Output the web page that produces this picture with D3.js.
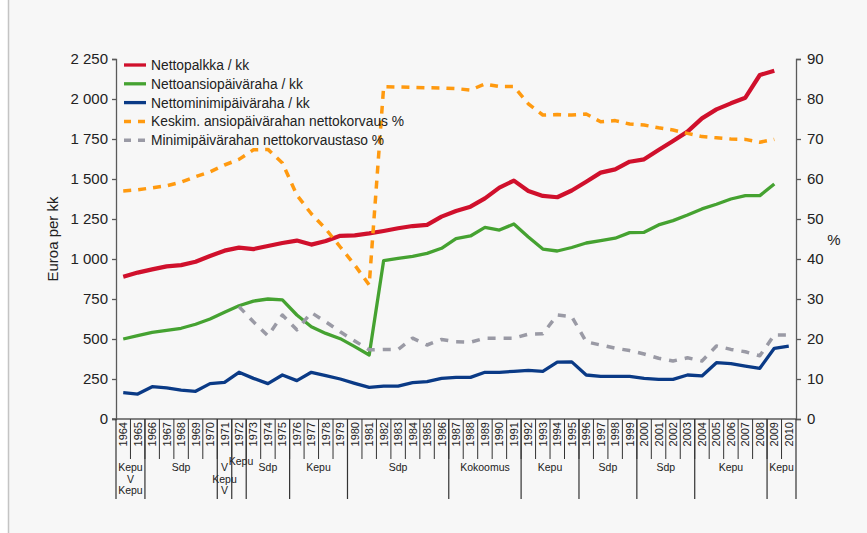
<!DOCTYPE html>
<html>
<head>
<meta charset="utf-8">
<script src="https://cdn.jsdelivr.net/npm/d3@7"></script>
<style>
  body { margin: 0; background: #fff; }
  svg { display: block; font-family: "Liberation Sans", Arial, sans-serif; }
</style>
</head>
<body>
<div id="chart"></div>
<script>
const years = d3.range(1964, 2011);

// Euroa per kk
const nettopalkka = [889, 915, 935, 954, 962, 983, 1019, 1052, 1071, 1062, 1081, 1100, 1115, 1090, 1112, 1145,
  1148, 1160, 1175, 1192, 1206, 1213, 1265, 1300, 1327, 1379, 1446, 1490, 1425, 1394, 1386, 1428,
  1483, 1540, 1560, 1608, 1623, 1681, 1738, 1796, 1879, 1935, 1973, 2008, 2150, 2177, null];
const ansiopaivaraha = [500, 521, 542, 554, 567, 592, 625, 667, 708, 737, 750, 744, 650, 577, 535, 502,
  452, 400, 990, 1004, 1017, 1035, 1067, 1128, 1144, 1198, 1181, 1219, 1138, 1062, 1050, 1072,
  1100, 1115, 1130, 1165, 1167, 1213, 1240, 1275, 1313, 1342, 1375, 1396, 1396, 1469, null];
const minimipaivaraha = [165, 156, 202, 194, 181, 173, 221, 229, 292, 254, 221, 275, 240, 292, 271, 250,
  223, 198, 206, 206, 227, 233, 254, 260, 260, 292, 292, 298, 304, 298, 356, 357,
  275, 267, 267, 267, 254, 248, 248, 275, 269, 352, 346, 331, 317, 442, 456];

// %
const ansioKorvaus = [57, 57.3, 57.8, 58.3, 59.2, 60.6, 61.8, 63.5, 64.9, 67.3, 67.4, 64, 56, 51.3, 47.5, 43,
  38.5, 33.5, 83.1, 83, 82.9, 82.8, 82.75, 82.6, 82.25, 83.75, 83.1, 83.1, 78.8, 76, 76.1, 76,
  76.25, 74.3, 74.6, 73.75, 73.5, 72.8, 72.25, 71.4, 70.6, 70.3, 70, 69.9, 69.2, 69.9, null];
const minimiKorvaus = [null, null, null, null, null, null, null, null, 28.1, 24.3, 20.8, 26, 22.3, 26.6, 24.3, 21.8,
  19.5, 17.3, 17.4, 17.4, 20.2, 18.5, 19.9, 19.3, 19.2, 20.2, 20.2, 20.2, 21.2, 21.3, 26, 25.6,
  19.3, 18.5, 17.7, 17.1, 16.25, 15.2, 14.5, 15.3, 14.5, 18.25, 17.4, 16.8, 15.8, 21, 21];

const leftTicks = d3.range(0, 2251, 250);
const rightTicks = d3.range(0, 91, 10);

const seriesNames = ["Nettopalkka / kk", "Nettoansiopäiväraha / kk", "Nettominimipäiväraha / kk",
  "Keskim. ansiopäivärahan nettokorvaus %", "Minimipäivärahan nettokorvaustaso %"];

// hallitukset
const governments = [
  { from: 1964, to: 1965, parties: ["Kepu", "V", "Kepu"] },
  { from: 1966, to: 1970, parties: ["Sdp"] },
  { from: 1971, to: 1971, parties: ["V", "Kepu", "V"] },
  { from: 1972, to: 1972, parties: ["Kepu"] },
  { from: 1973, to: 1975, parties: ["Sdp"] },
  { from: 1976, to: 1979, parties: ["Kepu"] },
  { from: 1980, to: 1986, parties: ["Sdp"] },
  { from: 1987, to: 1991, parties: ["Kokoomus"] },
  { from: 1992, to: 1995, parties: ["Kepu"] },
  { from: 1996, to: 1999, parties: ["Sdp"] },
  { from: 2000, to: 2003, parties: ["Sdp"] },
  { from: 2004, to: 2008, parties: ["Kepu"] },
  { from: 2009, to: 2010, parties: ["Kepu"] }
];

const W = 867, H = 533;
const m = { left: 116, right: 796, top: 59, bottom: 419 };

const svg = d3.select("#chart").append("svg").attr("width", W).attr("height", H);

svg.append("rect").attr("x", 8).attr("y", 0).attr("width", W - 8).attr("height", H).attr("fill", "#f7f7f7");
svg.append("line").attr("x1", 8.5).attr("x2", 8.5).attr("y1", 0).attr("y2", H)
  .attr("stroke", "#c4c4c4").attr("stroke-width", 1.5);

const x = d3.scaleBand().domain(years).range([m.left, m.right]);
const yL = d3.scaleLinear().domain([0, 2250]).range([m.bottom, m.top]);
const yR = d3.scaleLinear().domain([0, 90]).range([m.bottom, m.top]);
const cx = yr => x(yr) + x.bandwidth() / 2;

const fi = d3.formatLocale({ decimal: ",", thousands: "\u00a0", grouping: [3], currency: ["", " €"] });

const axisColor = "#5a5a5a";

// left axis
svg.append("g")
  .attr("transform", `translate(${m.left},0)`)
  .call(d3.axisLeft(yL).tickValues(leftTicks).tickSize(4).tickPadding(4).tickFormat(fi.format(",")))
  .call(g => g.select(".domain").attr("stroke", axisColor).attr("stroke-width", 1.3))
  .call(g => g.selectAll("line").attr("stroke", axisColor).attr("stroke-width", 1.3))
  .call(g => g.selectAll("text").attr("fill", "#222").style("font-size", "15px")
    .style("font-family", "'Liberation Sans', Arial, sans-serif"));

// right axis
svg.append("g")
  .attr("transform", `translate(${m.right},0)`)
  .call(d3.axisRight(yR).tickValues(rightTicks).tickSize(5).tickPadding(6))
  .call(g => g.select(".domain").attr("stroke", axisColor).attr("stroke-width", 1.3))
  .call(g => g.selectAll("line").attr("stroke", axisColor).attr("stroke-width", 1.3))
  .call(g => g.selectAll("text").attr("fill", "#222").style("font-size", "15px")
    .style("font-family", "'Liberation Sans', Arial, sans-serif"));

svg.append("text")
  .attr("transform", `translate(58,${(m.top + m.bottom) / 2}) rotate(-90)`)
  .attr("text-anchor", "middle")
  .attr("fill", "#222")
  .style("font-size", "15px")
  .text("Euroa per kk");

svg.append("text")
  .attr("x", 834).attr("y", 245)
  .attr("text-anchor", "middle")
  .attr("fill", "#222")
  .style("font-size", "15px")
  .text("%");

// x axis: baseline, year separators, years
svg.append("line").attr("x1", m.left - 4).attr("x2", m.right).attr("y1", m.bottom).attr("y2", m.bottom)
  .attr("stroke", axisColor).attr("stroke-width", 1.3);

svg.append("g").selectAll("line")
  .data(years.slice(1))
  .join("line")
  .attr("x1", d => x(d)).attr("x2", d => x(d))
  .attr("y1", m.bottom).attr("y2", 459)
  .attr("stroke", "#333").attr("stroke-width", 1);

svg.append("g").selectAll("text")
  .data(years)
  .join("text")
  .attr("transform", d => `translate(${cx(d) + 4},${m.bottom + 3}) rotate(-90)`)
  .attr("text-anchor", "end")
  .attr("fill", "#222")
  .style("font-size", "11px")
  .text(d => d);

// government blocks
const govBounds = governments.map(g => g.from).concat([2011]);
svg.append("g").selectAll("line")
  .data(govBounds)
  .join("line")
  .attr("x1", d => d === 2011 ? m.right : x(d))
  .attr("x2", d => d === 2011 ? m.right : x(d))
  .attr("y1", m.bottom).attr("y2", 499)
  .attr("stroke", "#333").attr("stroke-width", 1.2);

// the 1972 label sits a little higher and to the right in the original
const nudge = { 1972: [2, -6] };
const govG = svg.append("g");
governments.forEach(g => {
  const mid = (x(g.from) + x(g.to) + x.bandwidth()) / 2;
  const [dx, dy] = nudge[g.from] || [0, 0];
  g.parties.forEach((p, i) => {
    govG.append("text")
      .attr("x", mid + dx)
      .attr("y", 471 + i * 11.5 + dy)
      .attr("text-anchor", "middle")
      .attr("fill", "#222")
      .style("font-size", "10.5px")
      .text(p);
  });
});

// lines
const styles = [
  { color: "#d0102c", width: 4.2, dash: null, scale: yL, data: nettopalkka },
  { color: "#45a231", width: 3.3, dash: null, scale: yL, data: ansiopaivaraha },
  { color: "#0a3a86", width: 3.3, dash: null, scale: yL, data: minimipaivaraha },
  { color: "#ff9a10", width: 3.5, dash: "8,7", scale: yR, data: ansioKorvaus },
  { color: "#9a9aa5", width: 3.5, dash: "8,8", scale: yR, data: minimiKorvaus }
];

styles.forEach(s => {
  const line = d3.line()
    .defined(d => d[1] != null)
    .x(d => cx(d[0]))
    .y(d => s.scale(d[1]));
  svg.append("path")
    .datum(years.map((yr, i) => [yr, s.data[i]]))
    .attr("d", line)
    .attr("fill", "none")
    .attr("stroke", s.color)
    .attr("stroke-width", s.width)
    .attr("stroke-linejoin", "round")
    .attr("stroke-dasharray", s.dash);
});

// legend
const leg = svg.append("g").attr("transform", "translate(124,65)");
seriesNames.forEach((name, i) => {
  const s = styles[i];
  const row = leg.append("g").attr("transform", `translate(0,${i * 18.8})`);
  row.append("line")
    .attr("x1", 0).attr("x2", 22).attr("y1", 0).attr("y2", 0)
    .attr("stroke", s.color)
    .attr("stroke-width", s.dash ? 3.5 : 3.3)
    .attr("stroke-dasharray", s.dash ? "7,7" : null);
  row.append("text")
    .attr("x", 27).attr("y", 5)
    .attr("fill", "#222")
    .style("font-size", "13.8px")
    .text(name);
});
</script>
</body>
</html>
